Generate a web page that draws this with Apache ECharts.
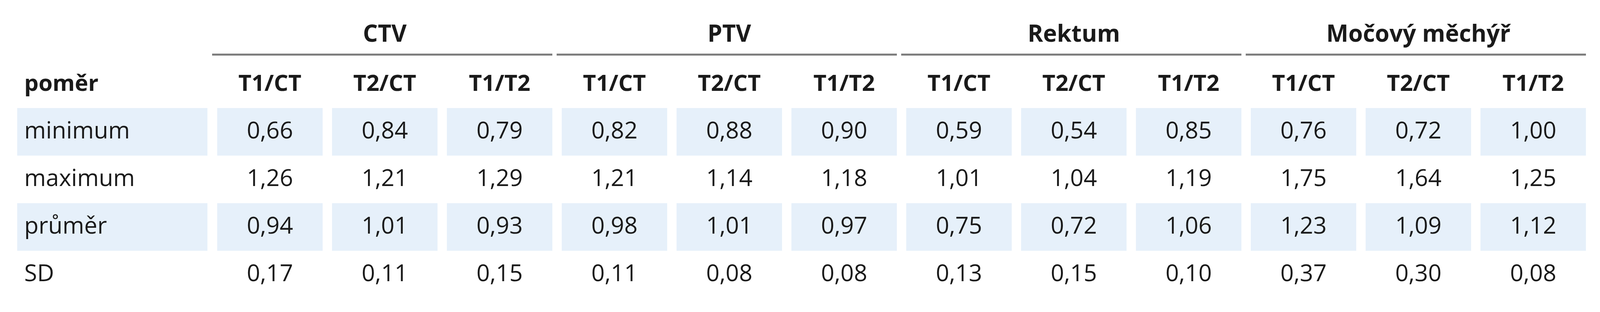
<!DOCTYPE html>
<html>
<head>
<meta charset="utf-8">
<script src="https://cdn.jsdelivr.net/npm/echarts@6/dist/echarts.min.js"></script>
<style>
  html, body { margin: 0; padding: 0; background: #fff; }
  #chart { width: 4125px; height: 800px; }
</style>
</head>
<body>
<div id="chart"></div>
<script>
// data of the table
var groups = ['CTV', 'PTV', 'Rektum', 'Močový měchýř'];
var subCols = ['T1/CT', 'T2/CT', 'T1/T2'];
var rowLabels = ['minimum', 'maximum', 'průměr', 'SD'];
var rowMinimum = ['0,66', '0,84', '0,79', '0,82', '0,88', '0,90', '0,59', '0,54', '0,85', '0,76', '0,72', '1,00'];
var rowMaximum = ['1,26', '1,21', '1,29', '1,21', '1,14', '1,18', '1,01', '1,04', '1,19', '1,75', '1,64', '1,25'];
var rowMean    = ['0,94', '1,01', '0,93', '0,98', '1,01', '0,97', '0,75', '0,72', '1,06', '1,23', '1,09', '1,12'];
var rowSD      = ['0,17', '0,11', '0,15', '0,11', '0,08', '0,08', '0,13', '0,15', '0,10', '0,37', '0,30', '0,08'];
var rows = [rowMinimum, rowMaximum, rowMean, rowSD];

// layout
var colLeft = 556, colPitch = 294, colW = 270;
var rowTop = 277, rowH = 122;
var fontFam = '"Open Sans", "Liberation Sans", sans-serif';
var band = '#e6f0fa';

var els = [];
// banded rows
rows.forEach(function (vals, r) {
  var y = rowTop + r * rowH;
  if (r % 2 === 0) {
    els.push({ type: 'rect', shape: { x: 44, y: y, width: 487, height: rowH }, style: { fill: band } });
    for (var c = 0; c < vals.length; c++) {
      els.push({ type: 'rect', shape: { x: colLeft + c * colPitch, y: y, width: colW, height: rowH }, style: { fill: band } });
    }
  }
  els.push({ type: 'text', x: 62, y: y + rowH / 2,
    style: { text: rowLabels[r], font: '60px ' + fontFam, fill: '#1a1a1a', verticalAlign: 'middle', align: 'left' } });
  vals.forEach(function (v, c) {
    els.push({ type: 'text', x: colLeft + c * colPitch + colW / 2, y: y + rowH / 2,
      style: { text: v, font: '60px ' + fontFam, fill: '#1a1a1a', verticalAlign: 'middle', align: 'center' } });
  });
});
// header
els.push({ type: 'text', x: 62, y: 216,
  style: { text: 'poměr', font: 'bold 58px ' + fontFam, fill: '#1a1a1a', verticalAlign: 'middle', align: 'left' } });
groups.forEach(function (g, gi) {
  var x0 = colLeft + gi * 3 * colPitch;
  var x1 = x0 + 2 * colPitch + colW;
  els.push({ type: 'text', x: (x0 + x1) / 2, y: 90,
    style: { text: g, font: 'bold 60px ' + fontFam, fill: '#1a1a1a', verticalAlign: 'middle', align: 'center' } });
  els.push({ type: 'line', shape: { x1: x0 - 13, y1: 140, x2: x1, y2: 140 }, style: { stroke: '#7a7a7a', lineWidth: 5 } });
  subCols.forEach(function (s, si) {
    els.push({ type: 'text', x: x0 + si * colPitch + colW / 2, y: 216,
      style: { text: s, font: 'bold 58px ' + fontFam, fill: '#1a1a1a', verticalAlign: 'middle', align: 'center' } });
  });
});

var chart = echarts.init(document.getElementById('chart'));
chart.setOption({ backgroundColor: '#fff', animation: false, graphic: { elements: els } });
</script>
</body>
</html>
